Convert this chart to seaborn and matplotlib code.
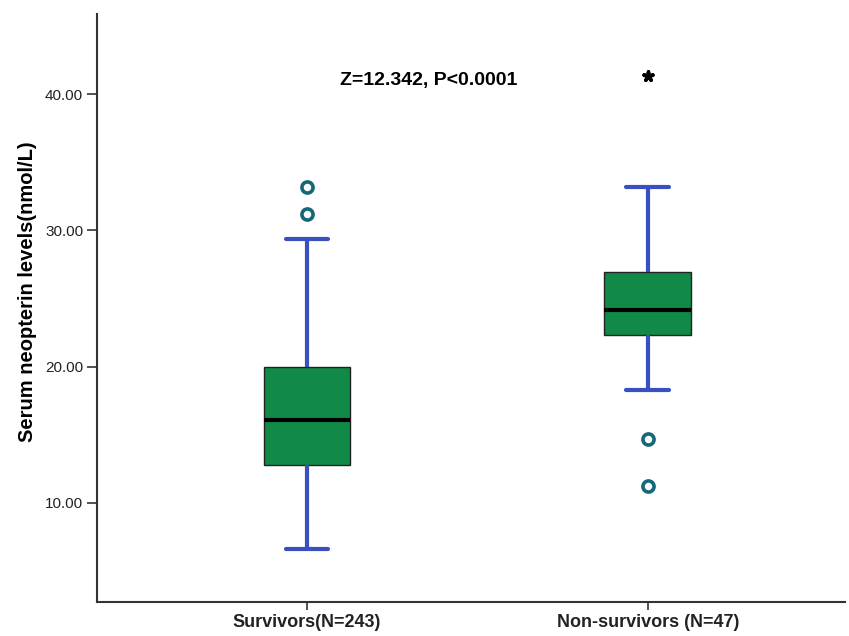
import matplotlib
matplotlib.use("Agg")
import matplotlib.pyplot as plt
import seaborn as sns
import pandas as pd

# ---- data ----
groups = ["Survivors(N=243)", "Non-survivors (N=47)"]
# five-number summaries: lower whisker, Q1, median, Q3, upper whisker
survivors_summary = [6.64, 12.76, 16.11, 19.98, 29.36]
nonsurvivors_summary = [18.31, 22.29, 24.18, 26.94, 33.19]
# outliers (circles)
survivors_outliers = [31.19, 33.21]
nonsurvivors_outliers = [14.70, 11.22]
# extreme outlier (asterisk)
nonsurvivors_extreme = [41.33]
yticks = [10, 20, 30, 40]
annotation = "Z=12.342, P<0.0001"
ylabel = "Serum neopterin levels(nmol/L)"

sns.set_theme(style="white")
plt.rcParams["font.family"] = ["Liberation Sans", "DejaVu Sans"]

box_df = pd.DataFrame({
    "group": [groups[0]] * len(survivors_summary) + [groups[1]] * len(nonsurvivors_summary),
    "value": survivors_summary + nonsurvivors_summary,
})
out_df = pd.DataFrame({
    "group": [groups[0]] * len(survivors_outliers) + [groups[1]] * len(nonsurvivors_outliers),
    "value": survivors_outliers + nonsurvivors_outliers,
})
ext_df = pd.DataFrame({"group": [groups[1]] * len(nonsurvivors_extreme),
                       "value": nonsurvivors_extreme})

fig = plt.figure(figsize=(8.49, 6.36), dpi=100)
ax = fig.add_axes([0.1143, 0.0535, 0.8807, 0.9245])

green = "#128a47"
blue = "#3a50c0"
teal = "#15687a"

sns.boxplot(data=box_df, x="group", y="value", order=groups, ax=ax,
            width=0.255, whis=100, showfliers=False, color=green,
            saturation=1,
            boxprops=dict(facecolor=green, edgecolor="#222222", linewidth=1.0),
            medianprops=dict(color="black", linewidth=3),
            whiskerprops=dict(color=blue, linewidth=3),
            capprops=dict(color=blue, linewidth=3))

sns.stripplot(data=out_df, x="group", y="value", order=groups, ax=ax,
              jitter=False, marker="o", size=8, color="white",
              edgecolor=teal, linewidth=2.6, zorder=5)

sns.stripplot(data=ext_df, x="group", y="value", order=groups, ax=ax,
              jitter=False, marker=(5, 2, 0), size=6.5, color="black",
              edgecolor="black", linewidth=2.6, zorder=5)

# make cap widths half the box width
for line in ax.lines:
    xd = list(line.get_xdata())
    yd = list(line.get_ydata())
    if len(xd) == 2 and yd[0] == yd[1] and line.get_color() == blue:
        c = (xd[0] + xd[1]) / 2
        line.set_xdata([c - 0.063, c + 0.063])

ax.set_xlim(-0.616, 1.578)
ax.set_ylim(2.74, 45.87)
ax.set_yticks(yticks)
ax.set_yticklabels([f"{v:.2f}" for v in yticks], fontsize=11, color="#222222")
ax.set_xticks([0, 1])
ax.set_xticklabels(groups, fontsize=13, fontweight="bold", color="#222222")
ax.set_xlabel("")
ax.set_ylabel(ylabel, fontsize=14.5, fontweight="bold", color="black")
ax.yaxis.set_label_coords(-0.080, 0.527)

ax.text(0.357, 41.0, annotation, fontsize=14, fontweight="bold",
        ha="center", va="center", color="black")

for s in ["top", "right"]:
    ax.spines[s].set_visible(False)
for s in ["left", "bottom"]:
    ax.spines[s].set_color("#333333")
    ax.spines[s].set_linewidth(1.5)
ax.tick_params(axis="y", direction="out", length=7, width=1.2, color="#333333",
               left=True, pad=3)
ax.tick_params(axis="x", direction="out", length=6, width=1.2, color="#333333",
               bottom=True, pad=3)

fig.savefig("out.png", dpi=100)
